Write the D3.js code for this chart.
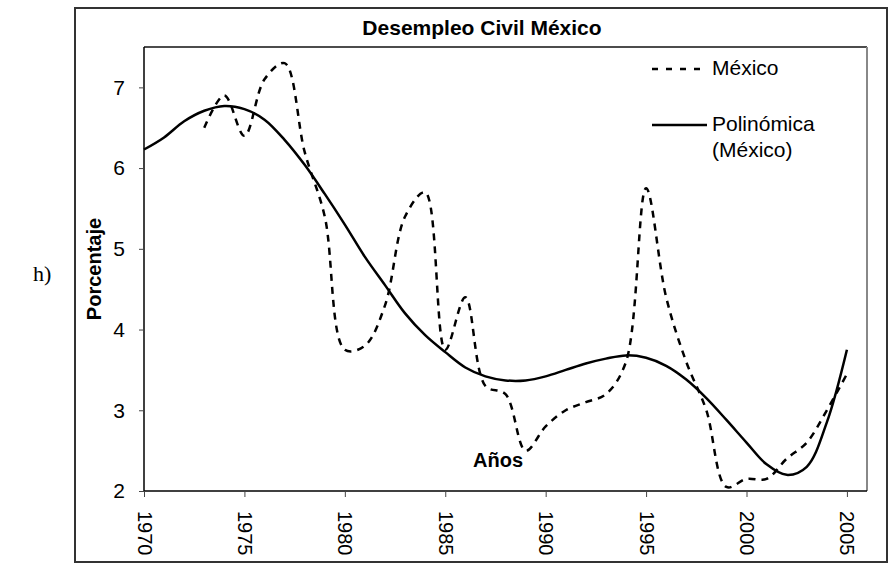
<!DOCTYPE html>
<html lang='es'>
<head>
	<meta charset='UTF-8'/>
	<title>Desempleo Civil México</title>
	<script src='https://cdnjs.cloudflare.com/ajax/libs/d3/7.8.5/d3.min.js'></script>
	<style>
		body {margin: 0; background: #fff;}
		svg {display: block; font-family: Arial, 'Liberation Sans', sans-serif;}
	</style>
</head>
<body>
	<div class='graph'></div>
	<script>
		// Datos
		const mexicoYears = [1973, 1974, 1975, 1976, 1977, 1978, 1979, 1980, 1981, 1982, 1983, 1984, 1985, 1986, 1987, 1988, 1989,
			1990, 1991, 1992, 1993, 1994, 1995, 1996, 1997, 1998, 1999, 2000, 2001, 2002, 2003, 2004, 2005];
		const mexicoValues = [6.5, 6.9, 6.4, 7.1, 7.3, 6.2, 5.4, 3.75, 3.8, 4.3, 5.4, 5.7, 3.75, 4.4, 3.3, 3.2, 2.5,
			2.8, 3.0, 3.1, 3.2, 3.6, 5.75, 4.4, 3.6, 3.0, 2.05, 2.15, 2.15, 2.4, 2.6, 3.0, 3.45];

		const trendYears = [1970, 1971, 1972, 1973, 1974, 1975, 1976, 1977, 1978, 1979, 1980, 1981, 1982, 1983, 1984, 1985, 1986, 1987,
			1988, 1989, 1990, 1991, 1992, 1993, 1994, 1995, 1996, 1997, 1998, 1999, 2000, 2001, 2002, 2003, 2004, 2005];
		const trendValues = [6.23, 6.38, 6.58, 6.71, 6.77, 6.73, 6.6, 6.35, 6.04, 5.68, 5.3, 4.9, 4.55, 4.2, 3.93, 3.72, 3.53, 3.42,
			3.37, 3.37, 3.42, 3.5, 3.58, 3.64, 3.68, 3.65, 3.55, 3.38, 3.15, 2.88, 2.6, 2.33, 2.2, 2.3, 2.85, 3.75];

		const xTicks = [1970, 1975, 1980, 1985, 1990, 1995, 2000, 2005];
		const yTicks = [2, 3, 4, 5, 6, 7];

		const width = 892, height = 567;
		const plot = {left: 144, right: 867, top: 47, bottom: 491};

		const svg = d3.select('.graph')
			.append('svg')
			.attr('width', width)
			.attr('height', height);

		// chart area border
		svg.append('rect')
			.attr('x', 75).attr('y', 8)
			.attr('width', 812).attr('height', 554)
			.style('fill', 'none')
			.style('stroke', '#333')
			.style('stroke-width', 2);

		const X = d3.scaleLinear().domain([1970, 2006]).range([plot.left, plot.right]);
		const Y = d3.scaleLinear().domain([2, 7.5]).range([plot.bottom, plot.top]);

		// plot area border (top + right)
		svg.append('line')
			.attr('x1', plot.left).attr('x2', plot.right)
			.attr('y1', plot.top).attr('y2', plot.top)
			.style('stroke', '#111').style('stroke-width', 1.5);
		svg.append('line')
			.attr('x1', plot.right).attr('x2', plot.right)
			.attr('y1', plot.top).attr('y2', plot.bottom)
			.style('stroke', '#888').style('stroke-width', 2);

		// Y axis
		const yAxis = svg.append('g')
			.attr('transform', 'translate(' + plot.left + ',0)')
			.call(d3.axisLeft(Y).tickValues(yTicks).tickSize(5).tickSizeOuter(0).tickPadding(14).tickFormat(d3.format('d')));
		yAxis.select('.domain').attr('d', 'M0,' + plot.top + 'V' + plot.bottom).style('stroke-width', 1.5);
		yAxis.selectAll('.tick line').style('stroke', '#444');
		yAxis.selectAll('text')
			.style('font-size', '21px')
			.style('font-family', 'Arial, "Liberation Sans", sans-serif')
			.style('fill', '#000');

		// X axis
		const xAxis = svg.append('g')
			.attr('transform', 'translate(0,' + plot.bottom + ')')
			.call(d3.axisBottom(X).tickValues(xTicks).tickSize(6).tickSizeOuter(0).tickFormat(d3.format('d')));
		xAxis.select('.domain').attr('d', 'M' + plot.left + ',0H' + plot.right).style('stroke-width', 1.5);
		xAxis.selectAll('.tick line').style('stroke', '#444');
		xAxis.selectAll('text')
			.attr('transform', 'rotate(90)')
			.attr('x', 20)
			.attr('y', 0)
			.attr('dy', '0.35em')
			.attr('text-anchor', 'start')
			.style('font-size', '20px')
			.style('font-family', 'Arial, "Liberation Sans", sans-serif')
			.style('fill', '#000');

		// lines
		const mexicoLine = d3.line()
			.x((d, i) => X(mexicoYears[i]))
			.y(d => Y(d))
			.curve(d3.curveCatmullRom.alpha(0.5));
		const trendLine = d3.line()
			.x((d, i) => X(trendYears[i]))
			.y(d => Y(d))
			.curve(d3.curveCatmullRom.alpha(0.5));

		svg.append('path')
			.datum(trendValues)
			.attr('d', trendLine)
			.style('fill', 'none')
			.style('stroke', '#000')
			.style('stroke-width', 2.5);

		svg.append('path')
			.datum(mexicoValues)
			.attr('d', mexicoLine)
			.style('fill', 'none')
			.style('stroke', '#000')
			.style('stroke-width', 2.5)
			.style('stroke-dasharray', '7,6');

		// title and axis labels
		svg.append('text')
			.text('Desempleo Civil México')
			.attr('x', 482).attr('y', 35)
			.attr('text-anchor', 'middle')
			.style('font-size', '21px')
			.style('font-weight', 'bold');

		svg.append('text')
			.text('Porcentaje')
			.attr('transform', 'translate(101,269) rotate(-90)')
			.attr('text-anchor', 'middle')
			.style('font-size', '20px')
			.style('font-weight', 'bold');

		svg.append('text')
			.text('Años')
			.attr('x', 473).attr('y', 467)
			.style('font-size', '20px')
			.style('font-weight', 'bold');

		svg.append('text')
			.text('h)')
			.attr('x', 33).attr('y', 281)
			.style('font-family', '"Liberation Serif", "DejaVu Serif", serif')
			.style('font-size', '22px');

		// Legend
		svg.append('line')
			.attr('x1', 652).attr('x2', 707)
			.attr('y1', 69).attr('y2', 69)
			.style('stroke', '#000').style('stroke-width', 2.5)
			.style('stroke-dasharray', '6,8');
		svg.append('text')
			.text('México')
			.attr('x', 712).attr('y', 75)
			.style('font-size', '21px');

		svg.append('line')
			.attr('x1', 652).attr('x2', 707)
			.attr('y1', 125).attr('y2', 125)
			.style('stroke', '#000').style('stroke-width', 2.5);
		svg.append('text')
			.text('Polinómica')
			.attr('x', 712).attr('y', 131)
			.style('font-size', '21px');
		svg.append('text')
			.text('(México)')
			.attr('x', 712).attr('y', 157)
			.style('font-size', '21px');
	</script>
</body>
</html>
